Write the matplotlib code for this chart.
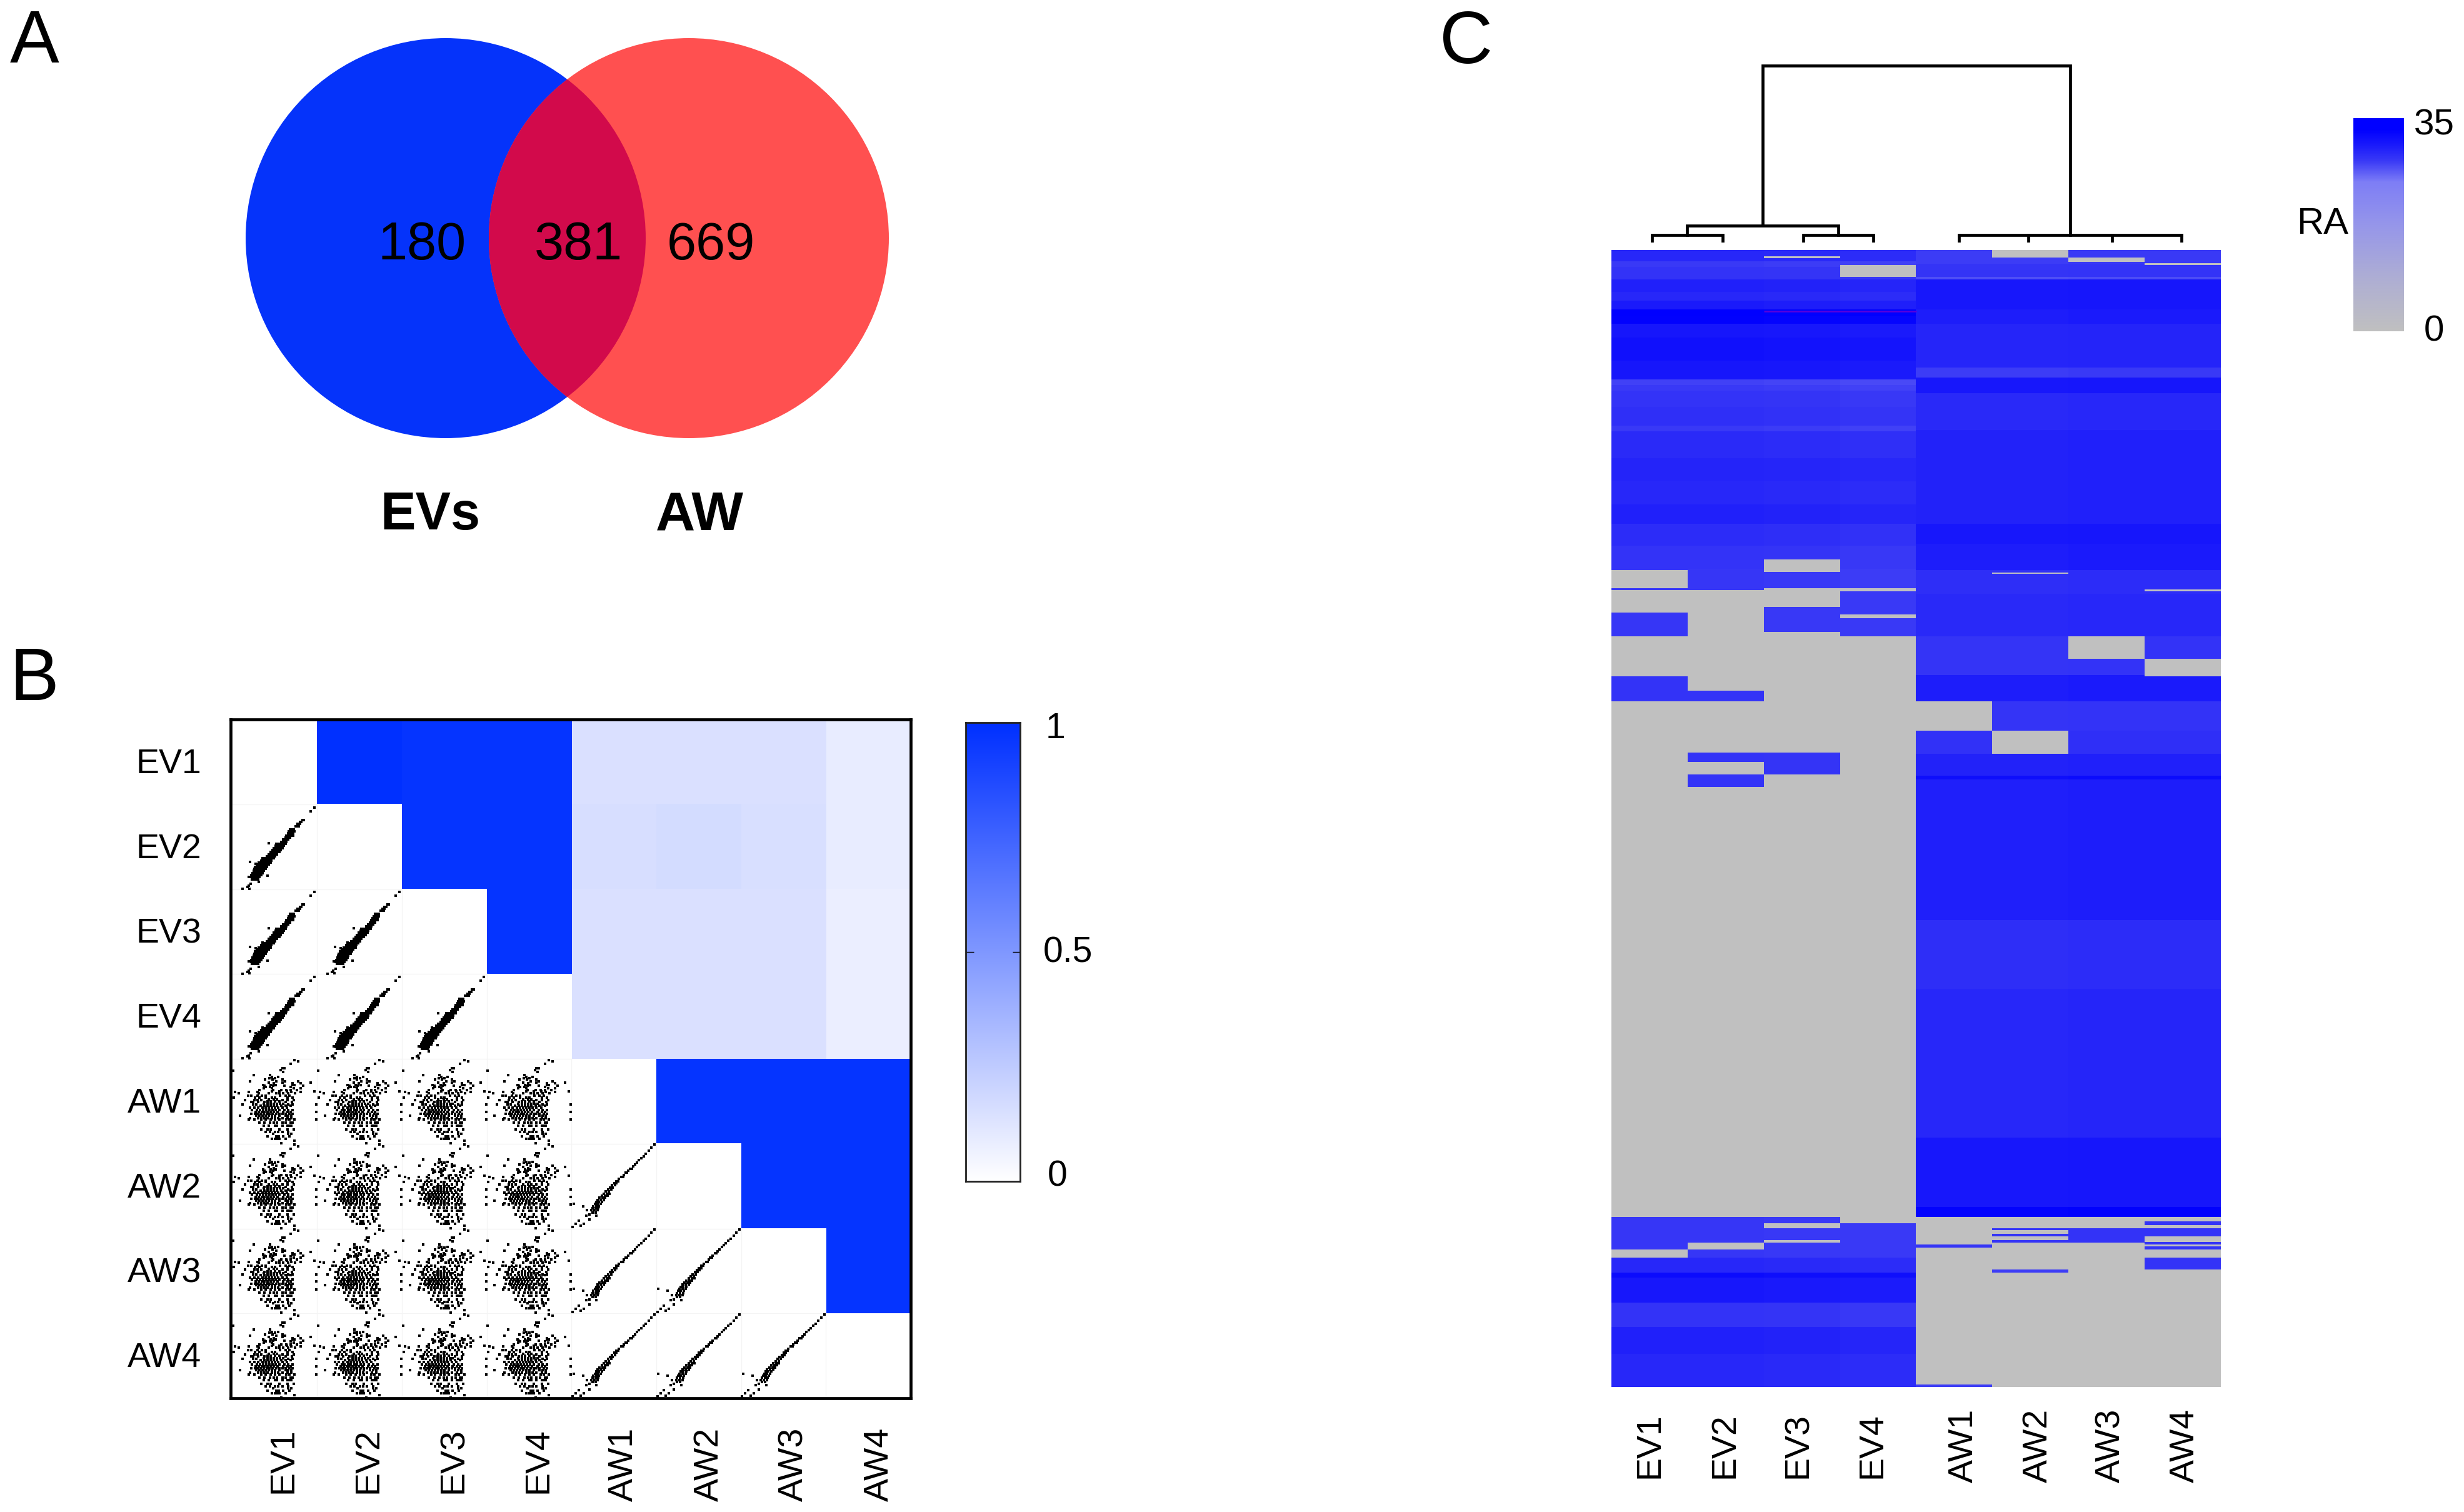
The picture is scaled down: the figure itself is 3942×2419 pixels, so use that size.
import numpy as np
import matplotlib
matplotlib.use("Agg")
import matplotlib.pyplot as plt
from matplotlib.colors import LinearSegmentedColormap
from matplotlib.patches import Circle

plt.rcParams['font.family'] = ['Liberation Sans', 'DejaVu Sans']

W, H = 3942, 2419
DPI = 100

# ---------- data ----------
venn_labels = ['EVs', 'AW']
venn_counts = [180, 381, 669]
samples = ['EV1', 'EV2', 'EV3', 'EV4', 'AW1', 'AW2', 'AW3', 'AW4']

# correlation (upper triangle of panel B), row by row
corr_ev1 = [1.0, 0.98, 0.98, 0.145, 0.145, 0.145, 0.09]
corr_ev2 = [0.98, 0.98, 0.16, 0.17, 0.155, 0.09]
corr_ev3 = [0.98, 0.145, 0.145, 0.145, 0.08]
corr_ev4 = [0.145, 0.145, 0.145, 0.08]
corr_aw1 = [0.98, 0.98, 0.98]
corr_aw2 = [0.98, 0.98]
corr_aw3 = [0.98]
corr_rows = [corr_ev1, corr_ev2, corr_ev3, corr_ev4, corr_aw1, corr_aw2, corr_aw3]

# scatter samples, read from single cells (cell = 0..408 each way, y downward)
# each entry: (y, [x, x, ...])
cloud_rows = [
    (5, [300]), (12, [318]), (25, [280]), (45, [240, 250]), (55, [232]), (58, [5]), (62, [245]),
    (77, [103, 180]), (88, [220, 190]), (92, [178, 205]), (100, [158, 192, 240]), (107, [85, 212, 252, 318]),
    (113, [378, 240, 175]), (118, [330, 290, 200]), (125, [147, 185, 208, 290, 300]), (130, [195, 250, 342, 155]),
    (135, [160, 280, 180]), (140, [295, 330, 190, 150]), (150, [235, 312, 280, 130, 195, 260]), (155, [396, 262, 190, 225]),
    (160, [14, 80, 330, 120, 285]), (165, [32, 225, 175, 303, 128, 270, 210, 245]), (178, [75, 90, 142, 120, 275, 255, 230, 160]),
    (185, [8, 160, 190, 205, 290, 130, 110, 265]), (197, [62, 105, 265, 240, 140, 295, 120]), (208, [100, 155, 288, 255, 125, 90]), (220, [50, 405, 115, 270, 100, 290]),
    (195, [175, 200, 215]),
    (205, [170, 185, 205, 225]),
    (215, [150, 170, 185, 200, 215, 230, 245]),
    (225, [135, 155, 170, 185, 200, 215, 235, 255, 280]),
    (235, [85, 125, 145, 160, 175, 190, 205, 220, 240, 262, 105]),
    (245, [95, 118, 132, 148, 162, 178, 192, 208, 225, 250, 270, 290]),
    (255, [112, 128, 142, 155, 170, 185, 200, 218, 245, 265, 280, 405]),
    (265, [90, 108, 122, 135, 150, 165, 178, 192, 210, 225, 240, 255, 275, 290]),
    (273, [38, 115, 130, 145, 160, 175, 190, 205, 225, 255, 270, 285]),
    (285, [85, 125, 140, 155, 170, 190, 205, 220, 240, 265, 285]),
    (293, [80, 105, 405, 140, 160, 185, 205, 225, 260, 275, 300]),
    (308, [130, 155, 180, 200, 215, 240, 258, 280, 290]),
    (322, [175, 205, 215, 240, 275, 285, 265, 150]),
    (340, [170, 185, 225, 265, 140, 295]),
    (352, [180, 240, 205, 220, 160, 270]),
    (360, [285, 270, 195]),
    (372, [210, 222, 245, 275, 170]),
    (384, [205, 215, 225, 190, 255]),
    (393, [300]),
    (405, [235]),
]

ev_ridge_rows = [
    (15, [395]), (33, [378]), (75, [338, 345]), (85, [325, 333]), (95, [315, 325]), (105, [305, 313, 321]),
    (120, [278, 286, 296]), (130, [272, 280, 288, 298]), (140, [268, 276, 284, 292]),
    (150, [260, 268, 276, 284, 292]), (160, [255, 263, 271, 279]), (170, [245, 253, 261, 269]),
    (180, [236, 244, 252, 260]), (188, [175]), (190, [212, 222, 232, 242, 250, 258]),
    (200, [208, 216, 224, 232, 240, 246]), (210, [200, 208, 218, 226, 234, 242]),
    (220, [192, 200, 208, 216, 224, 232]), (230, [185, 193, 201, 209, 217, 225]),
    (240, [175, 183, 191, 199, 207, 213]), (250, [165, 173, 181, 189, 197, 205]),
    (258, [145]), (260, [152, 160, 168, 176, 184, 192, 198]), (270, [140, 148, 156, 164, 172, 180, 188]),
    (277, [85]), (280, [128, 136, 144, 152, 160, 168, 176, 184]), (285, [112]),
    (290, [118, 126, 134, 142, 150, 158, 166, 174]), (300, [110, 118, 126, 134, 142, 150, 158, 166]),
    (310, [105, 113, 121, 129, 137, 145, 153, 161]), (320, [102, 110, 118, 126, 134, 142, 150]),
    (330, [97, 105, 113, 121, 129, 137, 145]), (340, [92, 100, 108, 116, 124, 132, 140]),
    (343, [170]), (348, [80]), (350, [90, 100, 110, 120, 130]), (360, [95, 105, 115, 125]),
    (373, [128]), (382, [88]), (392, [78]), (397, [72]), (405, [82]), (406, [50]),
]

aw_ridge_rows = [
    (5, [400]), (20, [385]), (35, [372]), (50, [358]), (60, [347]), (70, [335]), (80, [325]), (90, [315]),
    (100, [305]), (110, [296]), (120, [282, 290]), (130, [272]), (140, [260, 268]),
    (150, [252]), (160, [240, 248]), (170, [228]), (180, [215, 225]), (190, [205, 215]),
    (200, [195, 208]), (210, [185, 198]), (220, [175, 190]), (230, [165, 180]),
    (240, [155, 170, 182]), (250, [145, 160, 172]), (260, [135, 150, 162]),
    (270, [125, 140, 155]), (280, [118, 130, 145]), (290, [10, 112, 125, 140]),
    (300, [55, 105, 118, 132]), (310, [100, 115, 128]), (320, [75, 95, 110, 125]),
    (330, [100, 115]), (340, [85]), (345, [70, 120]), (365, [85]), (370, [35]), (385, [20, 60]), (395, [45]), (400, [5]),
]

# heatmap: bands of rows (stop row, RA value) common to the EV / AW columns
N_ROWS = 1230
ev_stops  = [12,18,32,45,55,64,72,80,95,120,140,146,152,170,190,196,225,250,275,296,320,345,368,420,488,1046,1090,1106,1112,1139,1165,1194,1230]
ev_values = [29.5,28,28.5,30,29.5,30.5,34,33,31,31.5,31,27.5,28,28.5,28.8,28,29.2,29.8,29.5,30,29,28.5,28.2,28.3,28.5,28.5,28.3,29.5,32,30.8,28.5,30,29.5]
aw_stops  = [15,29,32,64,80,127,138,155,195,296,318,346,372,418,460,488,520,545,569,573,725,799,960,1035,1046,1103,1230]
aw_values = [28,28.5,27,31,30.5,29.8,28,31,29.5,30,31,30.5,29,29.5,28.5,30.5,28.5,28.8,30,32,30.3,29,29.6,31,33,28.5,28]
col_shift = [0, 0, -0.15, -0.4, -0.15, -0.15, 0, 0]

# rows with no detection (RA 0), per sample
ev1_zero = [(346,366),(368,392),(418,461),(488,1046),(1081,1090)]
ev2_zero = [(368,477),(488,544),(554,567),(581,1046),(1074,1081)]
ev3_zero = [(7,9),(335,348),(366,386),(413,544),(567,1046),(1053,1058),(1071,1074)]
ev4_zero = [(16,29),(366,369),(394,398),(418,1053)]
aw1_zero = [(488,520),(1046,1076),(1079,1227)]
aw2_zero = [(0,8),(349,350),(520,545),(1046,1058),(1060,1064),(1067,1071),(1074,1103),(1106,1230)]
aw3_zero = [(8,13),(418,442),(1046,1058),(1074,1230)]
aw4_zero = [(14,16),(367,369),(442,461),(1046,1051),(1055,1058),(1067,1073),(1076,1078),(1081,1090),(1103,1230)]
zero_rows = [ev1_zero, ev2_zero, ev3_zero, ev4_zero, aw1_zero, aw2_zero, aw3_zero, aw4_zero]
purple_rows = (65, 67)

# dendrogram: leaves in column units, merge heights
leaf_pos = [0.53, 1.46, 2.52, 3.44, 4.56, 5.47, 6.57, 7.48]
h_leaf_bottom = 0
h_pair = 12
h_ev = 27
h_top = 283
h_ev_stem = 30

# ---------- helpers ----------
fig = plt.figure(figsize=(W / DPI, H / DPI), dpi=DPI, facecolor='white')

def px_axes(l, t, r, b, **kw):
    return fig.add_axes([l / W, 1 - b / H, (r - l) / W, (b - t) / H], **kw)

page = px_axes(0, 0, W, H)
page.set_xlim(0, W)
page.set_ylim(H, 0)
page.axis('off')

def ptext(x, y, s, size, **kw):
    kw.setdefault('ha', 'center')
    kw.setdefault('va', 'center')
    page.text(x, y, s, fontsize=size, color='black', **kw)

def flatten(rows):
    xs = [x for _, row in rows for x in row]
    ys = [y for y, row in rows for _ in row]
    return np.array(xs), np.array(ys)

ptext(55, 70, 'A', 85)
ptext(55, 1090, 'B', 85)
ptext(2346, 70, 'C', 85)

# ---------- panel A ----------
c_blue = Circle((713, 381), 320, fc='#0533FA', ec='none', zorder=2)
c_red = Circle((1102, 381), 320, fc='#FF5050', ec='none', zorder=3)
page.add_patch(c_blue)
page.add_patch(c_red)
c_mid = Circle((713, 381), 320, fc='#D20A4B', ec='none', zorder=4)
page.add_patch(c_mid)
c_mid.set_clip_path(Circle((1102, 381), 320, transform=page.transData))
for x, v in zip([675, 925, 1137], venn_counts):
    ptext(x, 393, str(v), 61, zorder=6)
ptext(688, 825, venn_labels[0], 61, fontweight='bold')
ptext(1119, 825, venn_labels[1], 63, fontweight='bold')

# ---------- panel B ----------
corr_cmap = LinearSegmentedColormap.from_list('corr', ['#FFFFFF', '#0030FF'])
ax = px_axes(369, 1151, 1457, 2237)
M = np.full((8, 8), np.nan)
for i, row in enumerate(corr_rows):
    M[i, i + 1:] = row
ax.imshow(M, cmap=corr_cmap, vmin=0, vmax=1, extent=(0, 8, 8, 0), aspect='auto',
          interpolation='nearest', zorder=1)
ax.set_xlim(-0.02, 8)
ax.set_ylim(8, 0)
for g in range(1, 8):
    ax.plot([g, g], [g, 8], color='#F4F4F4', lw=0.9, zorder=1.5)
    ax.plot([0, g], [g, g], color='#F4F4F4', lw=0.9, zorder=1.5)
cloud_xy = flatten(cloud_rows)
ev_xy = flatten(ev_ridge_rows)
aw_xy = flatten(aw_ridge_rows)
for i in range(8):
    for j in range(i):
        if i < 4:
            xs, ys = ev_xy
            size = 9
        elif j >= 4:
            xs, ys = aw_xy
            size = 8
        else:
            xs, ys = cloud_xy
            size = 9
        ax.scatter(j + xs / 408, i + ys / 408, s=size, c='black',
                   marker='s', linewidths=0, zorder=3)
ax.set_xticks(np.arange(8) + 0.5)
ax.set_yticks(np.arange(8) + 0.5)
ax.set_xticklabels([])
ax.set_yticklabels([])
ax.tick_params(length=0)
for sp in ax.spines.values():
    sp.set_linewidth(3.4)
for i, s in enumerate(samples):
    ptext(322, 1223 + 135.75 * i, s, 40, ha='right')
    ptext(453 + 136.3 * i, 2284, s, 40, rotation=90, va='top')

cb = px_axes(1545, 1156, 1632, 1890)
cb.imshow(np.linspace(1, 0, 256).reshape(-1, 1), cmap=corr_cmap, vmin=0, vmax=1,
          extent=(0, 1, 0, 1), aspect='auto')
cb.set_xlim(0, 1)
cb.set_ylim(0, 1)
cb.set_xticks([])
cb.set_yticks([0.5])
cb.set_yticklabels([])
cb.tick_params(axis='y', direction='in', length=9, width=1, left=True, right=True)
for sp in cb.spines.values():
    sp.set_linewidth(2.0)
    sp.set_color('#222222')
ptext(1673, 1166, '1', 41, ha='left')
ptext(1669, 1525, '0.5', 41, ha='left')
ptext(1676, 1883, '0', 41, ha='left')

# ---------- panel C ----------
ra_cmap = LinearSegmentedColormap.from_list('ra', [
    (0.0, '#C0C0C0'), (0.25, '#AEAED4'), (0.5, '#9696EA'), (0.7, '#7E7EF6'),
    (0.8, '#3A3AF6'), (0.87, '#1C1CFB'), (0.95, '#0000FF'), (1.0, '#0000FF')])

ev_col = np.repeat(ev_values, np.diff([0] + ev_stops))
aw_col = np.repeat(aw_values, np.diff([0] + aw_stops))
RA = np.zeros((N_ROWS, 8))
for c in range(8):
    RA[:, c] = (ev_col if c < 4 else aw_col) + col_shift[c]
    for a, b in zero_rows[c]:
        RA[a:b, c] = 0

hm = px_axes(2578, 400, 3553, 2219)
hm.imshow(RA, cmap=ra_cmap, vmin=0, vmax=35, aspect='auto', extent=(0, 8, N_ROWS, 0),
          interpolation='nearest')
hm.plot([2, 4], [purple_rows[0] + 1] * 2, color='#5A00DC', lw=1.8, solid_capstyle='butt')
hm.set_xlim(0, 8)
hm.set_ylim(N_ROWS, 0)
hm.axis('off')
for x, s in zip([2640, 2760, 2877, 2995, 3142, 3261, 3377, 3496], samples):
    ptext(x, 2313, s, 40, rotation=90)

de = px_axes(2578, 100, 3553, 388)
de.set_xlim(0, 8)
de.set_ylim(0, 288)
de.axis('off')
lk = dict(color='black', lw=3.4, solid_capstyle='projecting', solid_joinstyle='miter')
L = leaf_pos
de.plot([L[0], L[0], L[1], L[1]], [h_leaf_bottom, h_pair, h_pair, h_leaf_bottom], **lk)
de.plot([L[2], L[2], L[3], L[3]], [h_leaf_bottom, h_pair, h_pair, h_leaf_bottom], **lk)
m1 = (L[0] + L[1]) / 2
m2 = (L[2] + L[3]) / 2
de.plot([m1, m1, m2, m2], [h_pair, h_ev, h_ev, h_pair], **lk)
mev = (m1 + m2) / 2
maw = (L[5] + L[6]) / 2
de.plot([mev, mev, maw, maw], [h_ev_stem, h_top, h_top, h_pair], **lk)
de.plot([L[4], L[7]], [h_pair, h_pair], **lk)
for x in L[4:]:
    de.plot([x, x], [h_leaf_bottom, h_pair], **lk)

cbc = px_axes(3765, 189, 3846, 530)
cbc.imshow(np.linspace(35, 0, 256).reshape(-1, 1), cmap=ra_cmap, vmin=0, vmax=35,
           extent=(0, 1, 0, 35), aspect='auto')
cbc.axis('off')
ptext(3716, 358, 'RA', 43)
ptext(3894, 200, '35', 42)
ptext(3894, 530, '0', 42)

fig.savefig('out.png', dpi=DPI, facecolor='white')
